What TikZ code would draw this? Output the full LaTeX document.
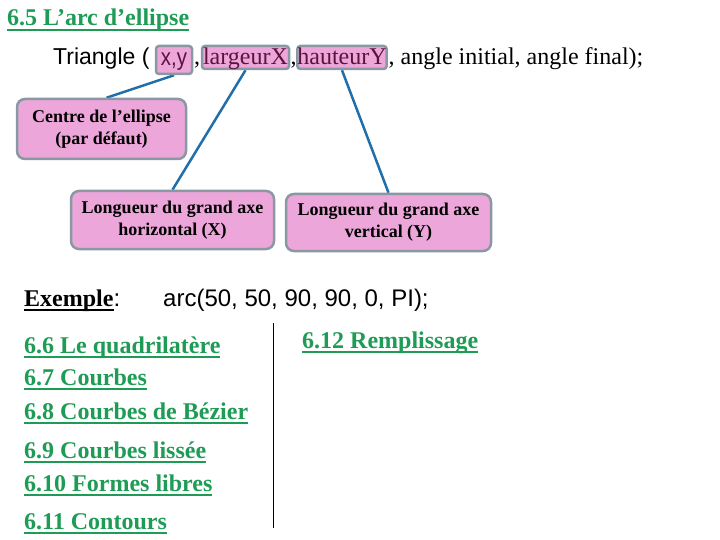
\documentclass[tikz,border=0pt]{standalone}
\usepackage{fontspec}
\setmainfont{Liberation Serif}
\newfontfamily\arialf{Liberation Sans}
\usetikzlibrary{backgrounds}
\definecolor{lnkgreen}{RGB}{30,155,85}
\definecolor{boxpink}{RGB}{236,166,218}
\definecolor{boxedge}{RGB}{138,152,164}
\definecolor{connblue}{RGB}{32,110,170}
\definecolor{maroontxt}{RGB}{90,20,60}
\newcommand\ulx[1]{\setbox0\hbox{#1}\rlap{\rule[-5pt]{\wd0}{1.8pt}}\box0}
\tikzset{
  linktext/.style={anchor=base west, inner sep=0pt, text=lnkgreen, font=\fontsize{24}{28}\selectfont\bfseries},
  pinkbox/.style={draw=boxedge, fill=boxpink, line width=2.5pt, rounded corners=8pt, align=center,
                  inner sep=0pt, font=\fontsize{18}{22}\selectfont\bfseries, text=black},
  inlinebox/.style={draw=boxedge, fill=boxpink, line width=2.5pt, rounded corners=3pt, inner sep=0pt, text=maroontxt},
  plaintext/.style={anchor=base west, inner sep=0pt},
  conn/.style={draw=connblue, line width=2.5pt},
}
\begin{document}
\begin{tikzpicture}[x=1pt,y=-1pt]
\useasboundingbox (0,0) rectangle (720,540);
% title
\node[linktext] (title) at (7,26) {\ulx{6.5 L’arc d’ellipse}};
% syntax line
\node[plaintext, font=\arialf\fontsize{23}{26}\selectfont] (tri) at (53,65) {Triangle (};
\node[inlinebox, minimum width=36pt, minimum height=28pt, text height=16pt, text depth=4pt,
      font=\arialf\fontsize{24}{28}\selectfont] (xy) at (174,60) {\scalebox{0.85}[1]{x,y}};
\node[plaintext, font=\fontsize{24}{28}\selectfont] (c1) at (194,65) {,};
\node[inlinebox, minimum width=87pt, minimum height=23pt, text height=18pt, text depth=3pt,
      font=\fontsize{24}{28}\selectfont] (lx) at (245.5,57.5) {largeurX};
\node[plaintext, font=\fontsize{24}{28}\selectfont] (c2) at (290.5,65) {,};
\node[inlinebox, minimum width=88pt, minimum height=23pt, text height=18pt, text depth=3pt,
      font=\fontsize{24}{28}\selectfont] (hy) at (342,57.5) {hauteurY};
\node[plaintext, font=\fontsize{24}{28}\selectfont] (rest) at (388.5,65) {, angle initial, angle final);};
% boxes
\node[pinkbox, minimum width=169pt, minimum height=60pt] (centre) at (101.5,129) {Centre de l’ellipse\\(par défaut)};
\node[pinkbox, minimum width=203pt, minimum height=58pt] (lonx) at (172.5,220) {Longueur du grand axe\\horizontal (X)};
\node[pinkbox, minimum width=205pt, minimum height=57pt] (lony) at (388.5,222.5) {Longueur du grand axe\\vertical (Y)};
% connectors
\begin{scope}[on background layer]
\draw[conn] (xy.south) -- ([xshift=5pt]centre.north);
\draw[conn] (lx.south) -- (lonx.north);
\draw[conn] (hy.south) -- (lony.north);
\end{scope}
% example
\node[plaintext, font=\fontsize{24}{28}\selectfont] (ex) at (24,306) {\textbf{\ulx{Exemple}}{\arialf :}};
\node[plaintext, font=\arialf\fontsize{24}{28}\selectfont] (arc) at (163,306) {arc(50, 50, 90, 90, 0, PI);};
% links
\node[linktext] (l66) at (24,353) {\ulx{6.6 Le quadrilatère}};
\node[linktext] (l67) at (24,385) {\ulx{6.7 Courbes}};
\node[linktext] (l68) at (24,419) {\ulx{6.8 Courbes de Bézier}};
\node[linktext] (l69) at (24,458) {\ulx{6.9 Courbes lissée}};
\node[linktext] (l610) at (24,491) {\ulx{6.10 Formes libres}};
\node[linktext] (l611) at (24,529) {\ulx{6.11 Contours}};
\node[linktext] (l612) at (302,348) {\ulx{6.12 Remplissage}};
\coordinate (vtop) at (273,323);
\coordinate (vbot) at (273,528);
\draw[line width=1pt] (vtop) -- (vbot);
\end{tikzpicture}
\end{document}
